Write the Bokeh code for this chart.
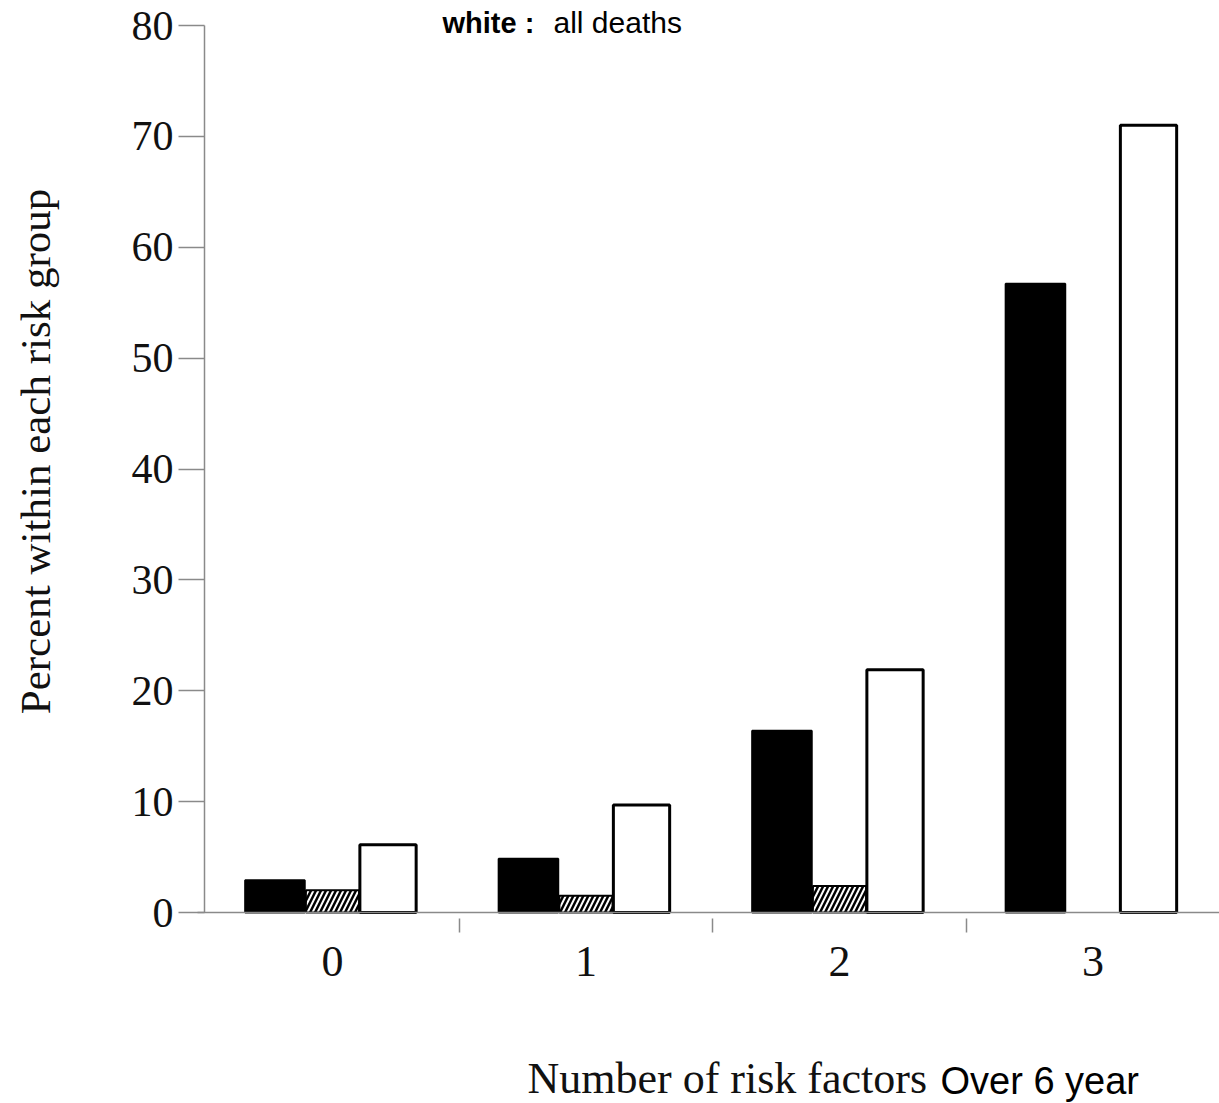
import math
from bokeh.plotting import figure
from bokeh.models import ColumnDataSource, FixedTicker, Label, Range1d
from bokeh.transform import dodge
from bokeh.embed import file_html
from bokeh.resources import INLINE

# ---- data ----
groups = [0, 1, 2, 3]
group_labels = ["0", "1", "2", "3"]
black_vals = [2.9, 4.85, 16.4, 56.7]
hatched_vals = [2.0, 1.5, 2.4, float("nan")]
white_vals = [6.1, 9.7, 21.9, 71.0]
y_ticks = [0, 10, 20, 30, 40, 50, 60, 70, 80]

src = ColumnDataSource(dict(x=groups, black=black_vals, hatched=hatched_vals, white=white_vals))

# ---- geometry: frame covers whole canvas, axes drawn at fixed locations ----
W, H = 1219, 1103
PX_X = 253.5      # px per category
X0_PX = 332.0     # px of category 0
Y0_PX = 912.0     # px of 0 %
PX_Y = (Y0_PX - 25.0) / 80.0   # px per percent

def dx(px):
    return (px - X0_PX) / PX_X

def dy(py):
    return (Y0_PX - py) / PX_Y

p = figure(width=W, height=H, output_backend="svg", toolbar_location=None,
           x_range=Range1d(dx(0), dx(W)), y_range=Range1d(dy(H), dy(0)),
           min_border=0, min_border_left=0, min_border_right=0,
           min_border_top=0, min_border_bottom=0)
p.outline_line_color = None
p.grid.visible = False
p.background_fill_color = "white"
p.border_fill_color = "white"

p.vbar(x=dodge("x", -0.227), top="black", width=0.235, bottom=0, source=src,
       fill_color="black", line_color="black", line_width=2)
p.vbar(x=dodge("x", 0.0), top="hatched", width=0.21, bottom=0, source=src,
       fill_color="black", hatch_pattern="/", hatch_color="white", hatch_weight=2,
       hatch_scale=10, line_color="black", line_width=2)
p.vbar(x=dodge("x", 0.219), top="white", width=0.222, bottom=0, source=src,
       fill_color="white", line_color="black", line_width=3)

axis_col = "#8a8a8a"
serif = "Liberation Serif"

# x axis at y = 0
xa = p.xaxis[0]
xa.fixed_location = 0
xa.bounds = (dx(197), dx(W))
xa.ticker = FixedTicker(ticks=groups, minor_ticks=[0.5, 1.5, 2.5])
xa.major_label_overrides = {g: l for g, l in zip(groups, group_labels)}
xa.major_tick_line_color = None
xa.major_tick_out = 0
xa.major_tick_in = 0
xa.minor_tick_line_color = axis_col
xa.minor_tick_line_width = 1.5
xa.minor_tick_out = 20
xa.minor_tick_in = -6
xa.axis_line_color = axis_col
xa.axis_line_width = 1.5
xa.major_label_text_font = serif
xa.major_label_text_font_size = "44px"
xa.major_label_text_color = "#111111"
xa.major_label_standoff = 14

# y axis at x = left edge of the plot area
ya = p.yaxis[0]
ya.fixed_location = dx(204)
ya.bounds = (0, 80)
ya.ticker = FixedTicker(ticks=y_ticks)
ya.minor_tick_line_color = None
ya.major_tick_line_color = axis_col
ya.major_tick_line_width = 1.5
ya.major_tick_out = 26
ya.major_tick_in = 0
ya.axis_line_color = axis_col
ya.axis_line_width = 1.5
ya.major_label_text_font = serif
ya.major_label_text_font_size = "42px"
ya.major_label_text_color = "#111111"
ya.major_label_standoff = 5

# ---- texts ----
p.add_layout(Label(x=dx(35), y=dy(451), text="Percent within each risk group", angle=math.pi / 2,
                   text_align="center", text_baseline="middle", text_font=serif,
                   text_font_size="43px", text_color="#111111"))
p.add_layout(Label(x=dx(527), y=dy(1078), text="Number of risk factors", text_align="left",
                   text_baseline="alphabetic", text_font=serif, text_font_size="44px",
                   text_color="#111111"))
p.add_layout(Label(x=dx(940), y=dy(1080), text="Over 6 year", text_align="left",
                   text_baseline="alphabetic", text_font="Liberation Sans", text_font_size="38px",
                   text_color="black"))
p.add_layout(Label(x=dx(442), y=dy(22), text="white :", text_align="left",
                   text_baseline="alphabetic", text_font="Liberation Sans", text_font_style="bold",
                   text_font_size="29px", text_color="black"))
p.add_layout(Label(x=dx(553), y=dy(22), text="all deaths", text_align="left",
                   text_baseline="alphabetic", text_font="Liberation Sans",
                   text_font_size="30px", text_color="black"))

open("out.html", "w").write(file_html(p, INLINE))
